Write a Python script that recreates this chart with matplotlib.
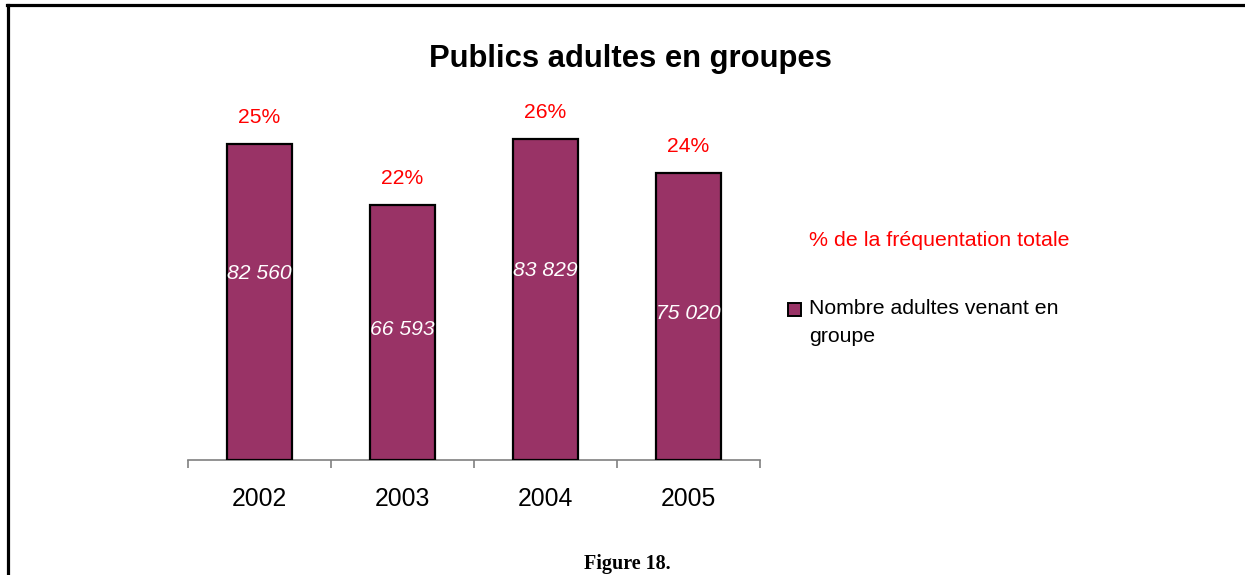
import matplotlib
matplotlib.use("Agg")
import matplotlib.pyplot as plt
from matplotlib.lines import Line2D
from matplotlib.patches import Rectangle

years = ["2002", "2003", "2004", "2005"]
adults_in_groups = [82560, 66593, 83829, 75020]
share_of_total = [25, 22, 26, 24]
count_labels = ["82 560", "66 593", "83 829", "75 020"]
series_name = ["Nombre adultes venant en", "groupe"]
share_name = "% de la fréquentation totale"

# height (as a fraction of each bar) at which the count sits
count_label_frac = [0.59, 0.51, 0.59, 0.51]

BAR_COLOR = "#993366"
W, H = 1245, 575
fig = plt.figure(figsize=(W / 100, H / 100), dpi=100)
fig.patch.set_facecolor("white")

SANS = ["Liberation Sans", "DejaVu Sans"]
plt.rcParams["font.family"] = SANS

# axes placed in pixel terms: baseline at y=460, x from 188 to 760
ymax = 90000
px_per_unit = 1 / 261.2
ax_h = ymax * px_per_unit
ax = fig.add_axes([188 / W, (H - 460) / H, (760 - 188) / W, ax_h / H])

x = list(range(len(years)))
ax.bar(x, adults_in_groups, width=0.455, color=BAR_COLOR,
       edgecolor="black", linewidth=1.6, zorder=3)

ax.set_xlim(-0.5, len(years) - 0.5)
ax.set_ylim(0, ymax)

for s in ["top", "right", "left"]:
    ax.spines[s].set_visible(False)
ax.spines["bottom"].set_color("#808080")
ax.spines["bottom"].set_linewidth(1.2)
ax.set_yticks([])

ax.set_xticks(x)
ax.set_xticklabels(years, fontsize=17.8)
ax.tick_params(axis="x", which="major", length=0, pad=19.5)
ax.set_xticks([i - 0.5 for i in range(len(years) + 1)], minor=True)
ax.tick_params(axis="x", which="minor", length=6, width=1.2, color="#808080",
               direction="out")

for xi, v, pct, lab, fr in zip(x, adults_in_groups, share_of_total,
                               count_labels, count_label_frac):
    ax.annotate(f"{pct}%", xy=(xi, v), xytext=(0, 19),
                textcoords="offset points", ha="center", va="center",
                color="red", fontsize=15.2)
    ax.text(xi, v * fr, lab, ha="center", va="center", color="white",
            fontsize=15.2, style="italic", zorder=4)

fig.text(630 / W, 1 - 59 / H, "Publics adultes en groupes", ha="center",
         va="center", fontsize=22.3, fontweight="bold")

fig.text(809 / W, 1 - 241 / H, share_name, ha="left",
         va="center", color="red", fontsize=15.4)

# series key: swatch plus two-line label
fig.add_artist(Rectangle((788 / W, 1 - 315.5 / H), 13 / W, 13 / H,
                         transform=fig.transFigure, facecolor=BAR_COLOR,
                         edgecolor="black", linewidth=1.4))
for i, line in enumerate(series_name):
    fig.text(809 / W, 1 - (309 + 28 * i) / H, line, ha="left", va="center",
             fontsize=15.3)

fig.text(627 / W, 1 - 564 / H, "Figure 18.", ha="center", va="center",
         fontsize=14.5, fontweight="bold",
         family=["Liberation Serif", "DejaVu Serif"])

# page frame: top and left edges
fig.add_artist(Line2D([7 / W, 1.0], [1 - 5 / H, 1 - 5 / H],
                      transform=fig.transFigure, color="black", linewidth=2.3))
fig.add_artist(Line2D([8 / W, 8 / W], [0, 1 - 5 / H],
                      transform=fig.transFigure, color="black", linewidth=2.3))

fig.savefig("out.png", dpi=100, facecolor="white")
